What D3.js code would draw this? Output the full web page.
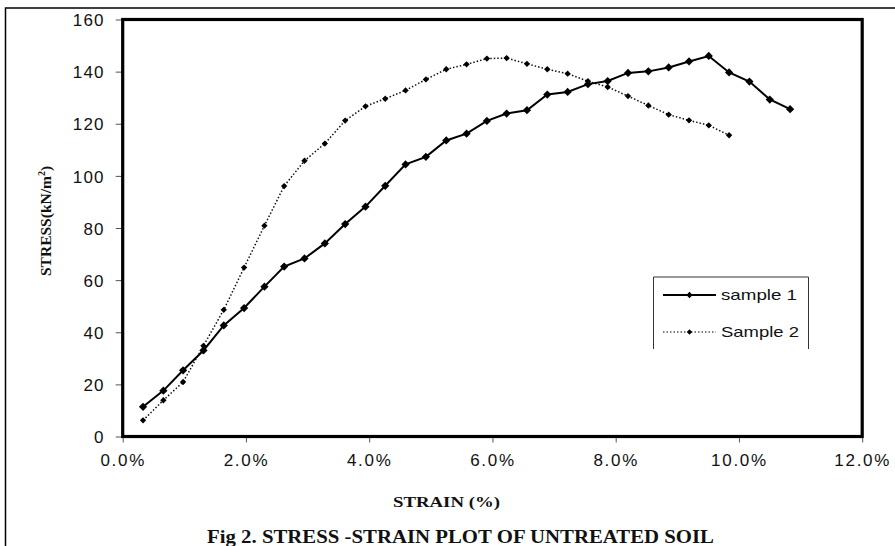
<!DOCTYPE html>
<html>
<head>
<meta charset="utf-8">
<script src="https://cdn.jsdelivr.net/npm/d3@7/dist/d3.min.js"></script>
<style>
  html, body { margin: 0; padding: 0; background: #fff; }
  svg { display: block; }
</style>
</head>
<body>
<div id="chart"></div>
<script>
// ---- data (strain in %, stress in kN/m^2) ----
const strain = [0.33, 0.66, 0.98, 1.31, 1.64, 1.97, 2.30, 2.62, 2.95, 3.28, 3.61, 3.94, 4.26, 4.59, 4.92, 5.25, 5.58, 5.91, 6.23, 6.56, 6.89, 7.22, 7.55, 7.87, 8.20, 8.53, 8.86, 9.19, 9.51, 9.84, 10.17, 10.50, 10.83];
const sample1 = [11.4, 17.6, 25.4, 33.0, 42.6, 49.3, 57.5, 65.2, 68.3, 74.1, 81.5, 88.2, 96.2, 104.4, 107.3, 113.6, 116.2, 121.1, 123.9, 125.2, 131.2, 132.2, 135.2, 136.4, 139.5, 140.1, 141.6, 143.9, 146.0, 139.7, 136.2, 129.3, 125.6];
const sample2 = [6.2, 13.9, 20.9, 34.8, 48.6, 64.8, 80.9, 96.1, 105.8, 112.4, 121.2, 126.7, 129.6, 132.8, 137.0, 140.9, 142.8, 145.0, 145.2, 143.0, 140.9, 139.2, 136.3, 134.1, 130.6, 127.0, 123.5, 121.3, 119.4, 115.6];
const seriesNames = ["sample 1", "Sample 2"];
const xTicks = [0, 2, 4, 6, 8, 10, 12];
const yTicks = [0, 20, 40, 60, 80, 100, 120, 140, 160];
const xTitle = "STRAIN (%)";
const yTitle = "STRESS(kN/m";
const figTitle = "Fig 2.  STRESS -STRAIN PLOT OF UNTREATED SOIL";

const W = 895, H = 546;
const svg = d3.select("#chart").append("svg").attr("width", W).attr("height", H);

const x = d3.scaleLinear().domain([0, 12]).range([122.7, 862.2]);
const y = d3.scaleLinear().domain([0, 160]).range([436.5, 19.5]);

// outer page border (top and left)
svg.append("path").attr("d", `M5.5,${H} L5.5,8 L${W},8`)
  .attr("fill", "none").attr("stroke", "#000").attr("stroke-width", 1.5);

// axes with ticks
const xAxis = d3.axisBottom(x).tickValues(xTicks).tickSize(6).tickFormat(d => d3.format(".1f")(d) + "%");
const yAxis = d3.axisLeft(y).tickValues(yTicks).tickSize(7).tickFormat(d3.format("d"));

const gx = svg.append("g").attr("transform", `translate(0,${y(0)})`).call(xAxis);
gx.select(".domain").remove();
gx.selectAll(".tick line").attr("stroke", "#555").attr("stroke-width", 1);
gx.selectAll(".tick text")
  .attr("y", 29).attr("dy", 0)
  .attr("font-family", "'Liberation Sans', Arial, sans-serif")
  .attr("font-size", 17).attr("letter-spacing", "1.7px").attr("fill", "#111");

const gy = svg.append("g").attr("transform", `translate(${x(0)},0)`).call(yAxis);
gy.select(".domain").remove();
gy.selectAll(".tick line").attr("stroke", "#555").attr("stroke-width", 1);
gy.selectAll(".tick text")
  .attr("x", -18).attr("dy", "0.36em")
  .attr("font-family", "'Liberation Sans', Arial, sans-serif")
  .attr("font-size", 17).attr("letter-spacing", "1.2px").attr("fill", "#111");

// plot frame (thick)
svg.append("rect")
  .attr("x", x(0)).attr("y", y(160))
  .attr("width", x(12) - x(0)).attr("height", y(0) - y(160))
  .attr("fill", "none").attr("stroke", "#000").attr("stroke-width", 3.2);

// line generators
const line = d3.line().x(d => x(d[0])).y(d => y(d[1]));
const data1 = strain.map((s, i) => [s, sample1[i]]);
const data2 = strain.slice(0, sample2.length).map((s, i) => [s, sample2[i]]);

const diamond = (size) => d3.symbol().type(d3.symbolSquare).size(size)();

// sample 2 (dotted)
svg.append("path").datum(data2).attr("d", line)
  .attr("fill", "none").attr("stroke", "#111").attr("stroke-width", 1.5)
  .attr("stroke-dasharray", "1.5,2");
svg.append("g").selectAll("path").data(data2).join("path")
  .attr("transform", d => `translate(${x(d[0])},${y(d[1])}) rotate(45)`)
  .attr("d", diamond(20)).attr("fill", "#000");

// sample 1 (solid)
svg.append("path").datum(data1).attr("d", line)
  .attr("fill", "none").attr("stroke", "#000").attr("stroke-width", 2);
svg.append("g").selectAll("path").data(data1).join("path")
  .attr("transform", d => `translate(${x(d[0])},${y(d[1])}) rotate(45)`)
  .attr("d", diamond(34)).attr("fill", "#000");

// legend (box open at bottom)
const lg = svg.append("g");
lg.append("path").attr("d", "M653.5,349 L653.5,277 L808.5,277 L808.5,349")
  .attr("fill", "none").attr("stroke", "#333").attr("stroke-width", 1);
const legendRows = [
  { name: seriesNames[0], y: 295, dash: null, w: 2, ms: 20, len: 76 },
  { name: seriesNames[1], y: 332, dash: "1.5,2", w: 1.2, ms: 14, len: 78 }
];
legendRows.forEach(r => {
  lg.append("line").attr("x1", 663).attr("x2", 716).attr("y1", r.y).attr("y2", r.y)
    .attr("stroke", "#000").attr("stroke-width", r.w).attr("stroke-dasharray", r.dash);
  lg.append("path").attr("transform", `translate(689.5,${r.y}) rotate(45)`).attr("d", diamond(r.ms)).attr("fill", "#000");
  lg.append("text").attr("x", 721).attr("y", r.y + 5)
    .attr("font-family", "'Liberation Sans', Arial, sans-serif").attr("font-size", 15)
    .attr("textLength", r.len).attr("lengthAdjust", "spacingAndGlyphs")
    .attr("fill", "#111").text(r.name);
});

// axis titles
svg.append("text").attr("x", 393).attr("y", 507)
  .attr("font-family", "'Liberation Serif', 'Times New Roman', serif").attr("font-weight", "bold")
  .attr("font-size", 15).attr("textLength", 107).attr("lengthAdjust", "spacingAndGlyphs")
  .attr("fill", "#111").text(xTitle);

const yt = svg.append("text")
  .attr("transform", "translate(51,276) rotate(-90)")
  .attr("font-family", "'Liberation Serif', 'Times New Roman', serif").attr("font-weight", "bold")
  .attr("font-size", 15.5).attr("fill", "#111");
yt.append("tspan").text(yTitle);
yt.append("tspan").attr("dy", -6).attr("font-size", 10).text("2");
yt.append("tspan").attr("dy", 6).text(")");

// figure caption (at the bottom edge)
svg.append("text").attr("x", 207).attr("y", 543)
  .attr("font-family", "'Liberation Serif', 'Times New Roman', serif").attr("font-weight", "bold")
  .attr("font-size", 19).attr("textLength", 507).attr("lengthAdjust", "spacingAndGlyphs")
  .attr("fill", "#111").text(figTitle);
</script>
</body>
</html>
